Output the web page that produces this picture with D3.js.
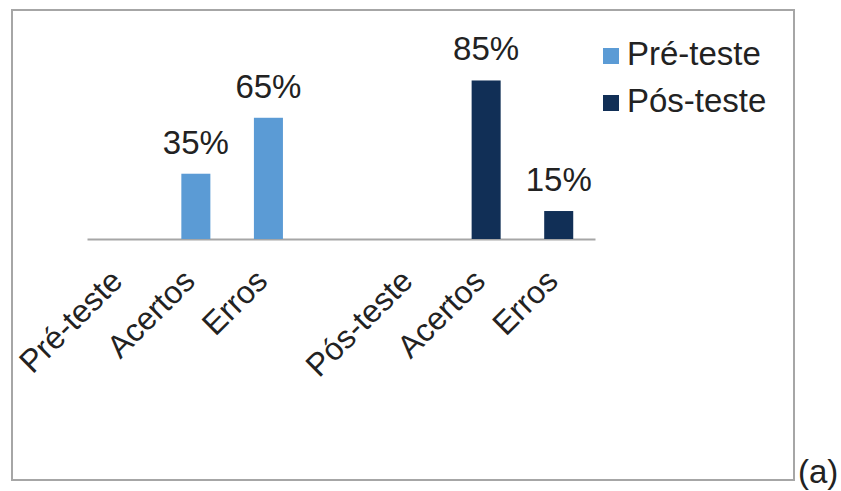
<!DOCTYPE html>
<html>
<head>
<meta charset="utf-8">
<script src="https://cdn.jsdelivr.net/npm/d3@7/dist/d3.min.js"></script>
<style>
  html, body { margin: 0; padding: 0; background: #fff; }
  svg { display: block; font-family: "Liberation Sans", Arial, sans-serif; }
</style>
</head>
<body>
<svg id="chart" width="841" height="491"></svg>
<script>
// Category slots along the x axis (the empty slot separates the two groups)
const categories = ["Pré-teste", "Acertos", "Erros", "", "Pós-teste", "Acertos", "Erros"];
// Series names and colours
const seriesNames = ["Pré-teste", "Pós-teste"];
const seriesColors = ["#5b9bd5", "#112f56"];
// Values in percent, one per category slot (null = no bar)
const preTeste = [null, 35, 65, null, null, null, null];
const posTeste = [null, null, null, null, null, 85, 15];

const svg = d3.select("#chart");
const textColor = "#222";

// Outer frame
svg.append("rect")
  .attr("x", 12).attr("y", 10)
  .attr("width", 782).attr("height", 470)
  .attr("fill", "#fff")
  .attr("stroke", "#a6a6a6")
  .attr("stroke-width", 2);

const keys = categories.map((d, i) => i);
const x = d3.scaleBand()
  .domain(keys)
  .range([87, 595])
  .paddingInner(0.6)
  .paddingOuter(0.3);

const y = d3.scaleLinear().domain([0, 100]).range([239, 52.5]);

// Category axis
const axis = d3.axisBottom(x)
  .tickSize(0)
  .tickSizeOuter(0)
  .tickFormat(i => categories[i]);

const gAxis = svg.append("g")
  .attr("transform", `translate(0,${y(0)})`)
  .call(axis);

gAxis.select(".domain")
  .attr("stroke", "#a6a6a6")
  .attr("stroke-width", 2);

gAxis.selectAll(".tick text")
  .attr("fill", textColor)
  .attr("font-size", 32)
  .attr("text-anchor", "end")
  .attr("dy", null)
  .attr("y", 0)
  .attr("transform", "translate(1,44) rotate(-45)");

// Bars and value labels for each series
const series = [preTeste, posTeste];
series.forEach((vals, s) => {
  const data = vals.map((v, i) => ({ i, v })).filter(d => d.v !== null);
  const g = svg.append("g");
  g.selectAll("rect")
    .data(data)
    .join("rect")
    .attr("x", d => x(d.i))
    .attr("width", x.bandwidth())
    .attr("y", d => y(d.v))
    .attr("height", d => y(0) - y(d.v))
    .attr("fill", seriesColors[s]);
  g.selectAll("text")
    .data(data)
    .join("text")
    .attr("x", d => x(d.i) + x.bandwidth() / 2)
    .attr("y", d => y(d.v) - 20)
    .attr("text-anchor", "middle")
    .attr("font-size", 33)
    .attr("fill", textColor)
    .text(d => d.v + "%");
});

// Legend
const legend = svg.append("g");
seriesNames.forEach((name, s) => {
  const ly = 48 + s * 47;
  legend.append("rect")
    .attr("x", 603).attr("y", ly)
    .attr("width", 16).attr("height", 16)
    .attr("fill", seriesColors[s]);
  legend.append("text")
    .attr("x", 627).attr("y", ly + 17)
    .attr("font-size", 33)
    .attr("fill", textColor)
    .text(name);
});

// Panel tag
svg.append("text")
  .attr("x", 798).attr("y", 483)
  .attr("font-size", 33)
  .attr("fill", textColor)
  .text("(a)");
</script>
</body>
</html>
